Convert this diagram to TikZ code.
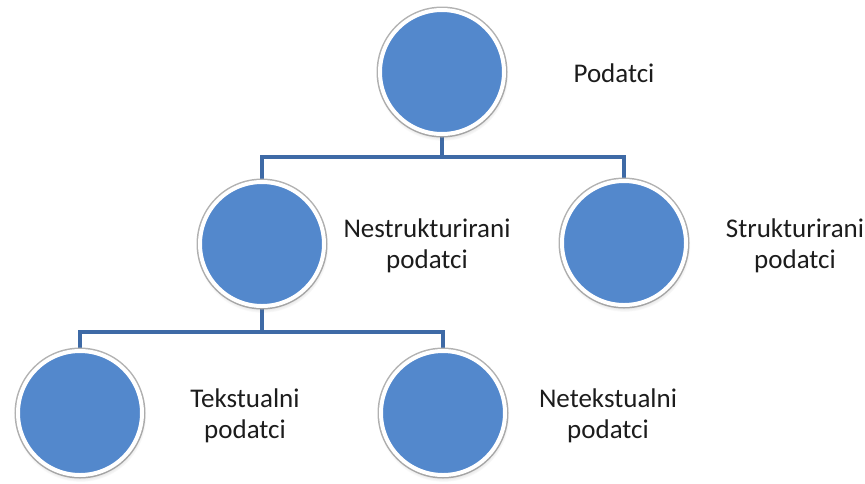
\documentclass[tikz,border=0pt]{standalone}
\usepackage{fontspec}
\setmainfont{Carlito}
\usetikzlibrary{shadows,backgrounds}
\definecolor{bubblue}{RGB}{83,136,204}
\definecolor{linkblue}{RGB}{62,106,166}
\definecolor{txt}{RGB}{28,28,28}
\tikzset{
  bub/.style={circle, minimum size=124pt, inner sep=0pt, fill=bubblue, draw=white, line width=4pt,
    preaction={draw=black!30, line width=7pt},
    circular drop shadow={shadow xshift=0.5pt, shadow yshift=-3pt, shadow scale=1.06, opacity=0.35, fill=black!60}},
  conn/.style={draw=linkblue, line width=3.5pt},
  lbl/.style={text=txt, font=\fontsize{27}{31}\selectfont, align=center, anchor=base, inner sep=0pt}
}
\begin{document}
\begin{tikzpicture}[x=1pt,y=-1pt]
\useasboundingbox (0,0) rectangle (865,483);
% circles
\node[bub] (top) at (442,72) {};
\node[bub] (ml) at (262,244) {};
\node[bub] (mr) at (624,243) {};
\node[bub] (bl) at (80,413) {};
\node[bub] (bm) at (443,413) {};
% junctions
\coordinate (j1) at (442,157);
\coordinate (j2) at (262,332);
% connectors
\begin{scope}[on background layer]
\draw[conn] (top) -- (j1);
\draw[conn] (j1) -| (ml);
\draw[conn] (j1) -| (mr);
\draw[conn] (ml) -- (j2);
\draw[conn] (j2) -| (bl);
\draw[conn] (j2) -| (bm);
\end{scope}
% labels
\node[lbl] (tTop) at (614,82) {Podatci};
\node[lbl] (tMl) at (427,268) {Nestrukturirani\\podatci};
\node[lbl] (tMr) at (795,268) {Strukturirani\\podatci};
\node[lbl] (tBl) at (245,438) {Tekstualni\\podatci};
\node[lbl] (tBm) at (608,438) {Netekstualni\\podatci};
\end{tikzpicture}
\end{document}
